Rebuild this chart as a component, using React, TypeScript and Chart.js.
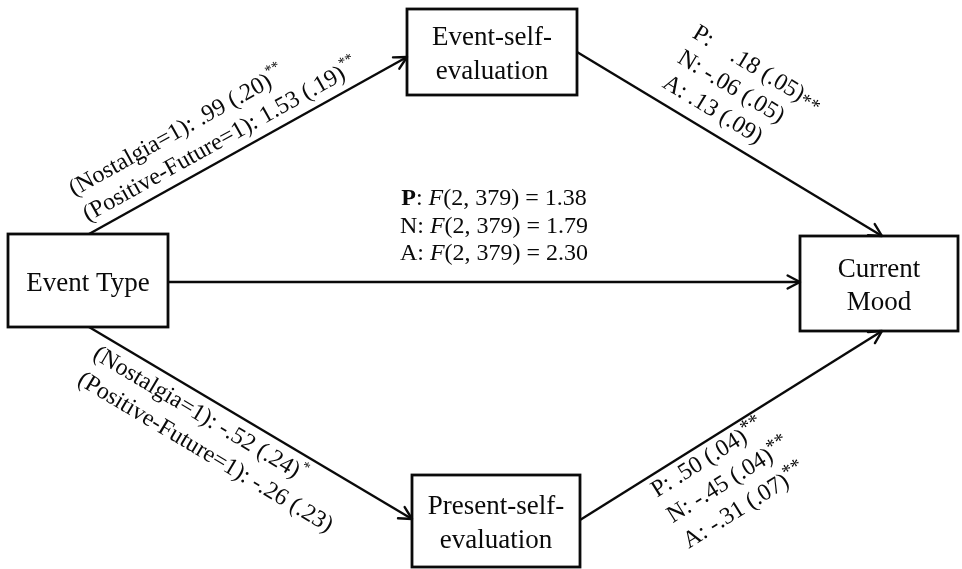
import { useEffect, useRef } from 'react';
import { Chart, registerables } from 'chart.js';

Chart.register(...registerables);

// ---------- data ----------
const nodeLabels = ['Event Type', 'Event-self-|evaluation', 'Present-self-|evaluation', 'Current|Mood'];
const dummyGroups = ['Nostalgia=1', 'Positive-Future=1'];
const eventToEventSelf = ['.99 (.20)', '1.53 (.19)'];
const eventToEventSelfSig = ['**', '**'];
const eventToPresentSelf = ['-.52 (.24)', '-.26 (.23)'];
const eventToPresentSelfSig = ['*', ''];
const moodDims = ['P', 'N', 'A'];
const eventSelfToMood = ['   .18 (.05)', '-.06 (.05)', '.13 (.09)'];
const eventSelfToMoodSig = ['**', '', ''];
const presentSelfToMood = ['.50 (.04)', '-.45 (.04)', '-.31 (.07)'];
const presentSelfToMoodSig = ['**', '**', '**'];
const directDf = '2, 379';
const directF = ['1.38', '1.79', '2.30'];

// ---------- layout (positions in axis units) ----------
const boxes = [
  { x0: 8, x1: 168, y0: 234, y1: 327 },
  { x0: 407, x1: 577, y0: 9, y1: 95 },
  { x0: 412, x1: 580, y0: 475, y1: 567 },
  { x0: 800, x1: 958, y0: 236, y1: 331 },
];
const arrows = [
  { from: [89, 234], to: [407, 57] },
  { from: [577, 52], to: [882, 236] },
  { from: [168, 282], to: [800, 282] },
  { from: [89, 327], to: [412, 519] },
  { from: [580, 520], to: [882, 331] },
];

const FONT = '"Liberation Serif", "Times New Roman", serif';
const INK = '#0a0a0a';

type Seg = { t: string; bold?: boolean; italic?: boolean; size?: number; dy?: number };

function segFont(s: Seg, base: number) {
  return `${s.italic ? 'italic ' : ''}${s.bold ? 'bold ' : ''}${s.size ?? base}px ${FONT}`;
}

function drawSegs(ctx: CanvasRenderingContext2D, segs: Seg[], x: number, y: number, base: number, align: 'left' | 'center') {
  let total = 0;
  const widths: number[] = [];
  for (const s of segs) {
    ctx.font = segFont(s, base);
    const w = ctx.measureText(s.t).width;
    widths.push(w);
    total += w;
  }
  let cx = align === 'center' ? x - total / 2 : x;
  ctx.textAlign = 'left';
  ctx.textBaseline = 'alphabetic';
  segs.forEach((s, i) => {
    ctx.font = segFont(s, base);
    ctx.fillText(s.t, cx, y + (s.dy ?? 0));
    cx += widths[i];
  });
}

const diagramPlugin = {
  id: 'diagram',
  afterDatasetsDraw(chart: any) {
    const ctx: CanvasRenderingContext2D = chart.ctx;
    const xs = chart.scales.x;
    const ys = chart.scales.y;
    const px = (v: number) => xs.getPixelForValue(v);
    const py = (v: number) => ys.getPixelForValue(v);
    ctx.save();
    ctx.fillStyle = INK;
    ctx.strokeStyle = INK;

    // boxes
    ctx.lineWidth = 2.8;
    boxes.forEach((b, i) => {
      const x0 = px(b.x0), x1 = px(b.x1), y0 = py(b.y0), y1 = py(b.y1);
      ctx.strokeRect(x0, y0, x1 - x0, y1 - y0);
      const lines = nodeLabels[i].split('|');
      const cx = (x0 + x1) / 2;
      const cy = (y0 + y1) / 2;
      if (lines.length === 1) {
        drawSegs(ctx, [{ t: lines[0] }], cx, cy + 10, 27, 'center');
      } else {
        drawSegs(ctx, [{ t: lines[0] }], cx, cy - 7, 27, 'center');
        drawSegs(ctx, [{ t: lines[1] }], cx, cy + 26.5, 27, 'center');
      }
    });

    // arrowheads
    ctx.lineWidth = 2.4;
    ctx.lineCap = 'round';
    ctx.lineJoin = 'round';
    arrows.forEach((a) => {
      const fx = px(a.from[0]), fy = py(a.from[1]);
      const tx = px(a.to[0]), ty = py(a.to[1]);
      const ang = Math.atan2(ty - fy, tx - fx);
      const L = 14, h = Math.PI / 6.5;
      ctx.beginPath();
      ctx.moveTo(tx - L * Math.cos(ang - h), ty - L * Math.sin(ang - h));
      ctx.lineTo(tx, ty);
      ctx.lineTo(tx - L * Math.cos(ang + h), ty - L * Math.sin(ang + h));
      ctx.stroke();
    });

    const rotatedBlock = (arrowIdx: number, along: number, lines: { segs: Seg[]; off: number }[]) => {
      const a = arrows[arrowIdx];
      const fx = px(a.from[0]), fy = py(a.from[1]);
      const tx = px(a.to[0]), ty = py(a.to[1]);
      const ang = Math.atan2(ty - fy, tx - fx);
      ctx.save();
      ctx.translate(fx, fy);
      ctx.rotate(ang);
      lines.forEach((ln) => drawSegs(ctx, ln.segs, along, ln.off, 24, 'left'));
      ctx.restore();
    };

    // Event type -> event-self
    rotatedBlock(0, 5, [
      { segs: [{ t: `(${dummyGroups[0]}): ${eventToEventSelf[0]}` }, { t: eventToEventSelfSig[0], size: 15, dy: -11 }], off: -40 },
      { segs: [{ t: `(${dummyGroups[1]}): ${eventToEventSelf[1]}` }, { t: eventToEventSelfSig[1], size: 15, dy: -11 }], off: -11 },
    ]);
    // Event type -> present-self
    rotatedBlock(3, 18, [
      { segs: [{ t: `(${dummyGroups[0]}): ${eventToPresentSelf[0]}` }, { t: eventToPresentSelfSig[0], size: 15, dy: -11 }], off: 25 },
      { segs: [{ t: `(${dummyGroups[1]}): ${eventToPresentSelf[1]}` }, { t: eventToPresentSelfSig[1], size: 15, dy: -11 }], off: 55 },
    ]);
    // Event-self -> mood
    const offsTR = [-72, -43, -14];
    rotatedBlock(1, 90, moodDims.map((d, i) => ({
      segs: [{ t: `${d}: ${eventSelfToMood[i]}` }, { t: eventSelfToMoodSig[i], size: 20, dy: 2 }],
      off: offsTR[i],
    })));
    // Present-self -> mood
    const offsBR = [22, 52, 82];
    rotatedBlock(4, 77, moodDims.map((d, i) => ({
      segs: [{ t: `${d}: ${presentSelfToMood[i]}` }, { t: presentSelfToMoodSig[i], size: 20, dy: -7 }],
      off: offsBR[i],
    })));

    // direct path
    const baseY = [205, 233, 260];
    moodDims.forEach((d, i) => {
      drawSegs(ctx, [
        { t: `${d}`, bold: i === 0 },
        { t: ': ' },
        { t: 'F', italic: true },
        { t: `(${directDf}) = ${directF[i]}` },
      ], px(494), py(baseY[i]), 24, 'center');
    });

    ctx.restore();
  },
};

export default function App() {
  const ref = useRef<HTMLCanvasElement | null>(null);
  useEffect(() => {
    document.body.style.margin = '0';
    const canvas = ref.current;
    if (!canvas) return;
    const chart = new Chart(canvas, {
      type: 'scatter',
      data: {
        datasets: arrows.map((a) => ({
          data: [
            { x: a.from[0], y: a.from[1] },
            { x: a.to[0], y: a.to[1] },
          ],
          showLine: true,
          borderColor: INK,
          borderWidth: 2.4,
          pointRadius: 0,
          fill: false,
        })),
      },
      options: {
        animation: false,
        responsive: true,
        maintainAspectRatio: false,
        layout: { padding: 0 },
        plugins: { legend: { display: false }, tooltip: { enabled: false } },
        events: [],
        scales: {
          x: { type: 'linear', min: 0, max: 962, display: false },
          y: { type: 'linear', min: 0, max: 569, reverse: true, display: false },
        },
      },
      plugins: [diagramPlugin],
    });
    return () => chart.destroy();
  }, []);
  return (
    <div style={{ width: 962, height: 569, position: 'relative', background: '#fff' }}>
      <canvas ref={ref} />
    </div>
  );
}
